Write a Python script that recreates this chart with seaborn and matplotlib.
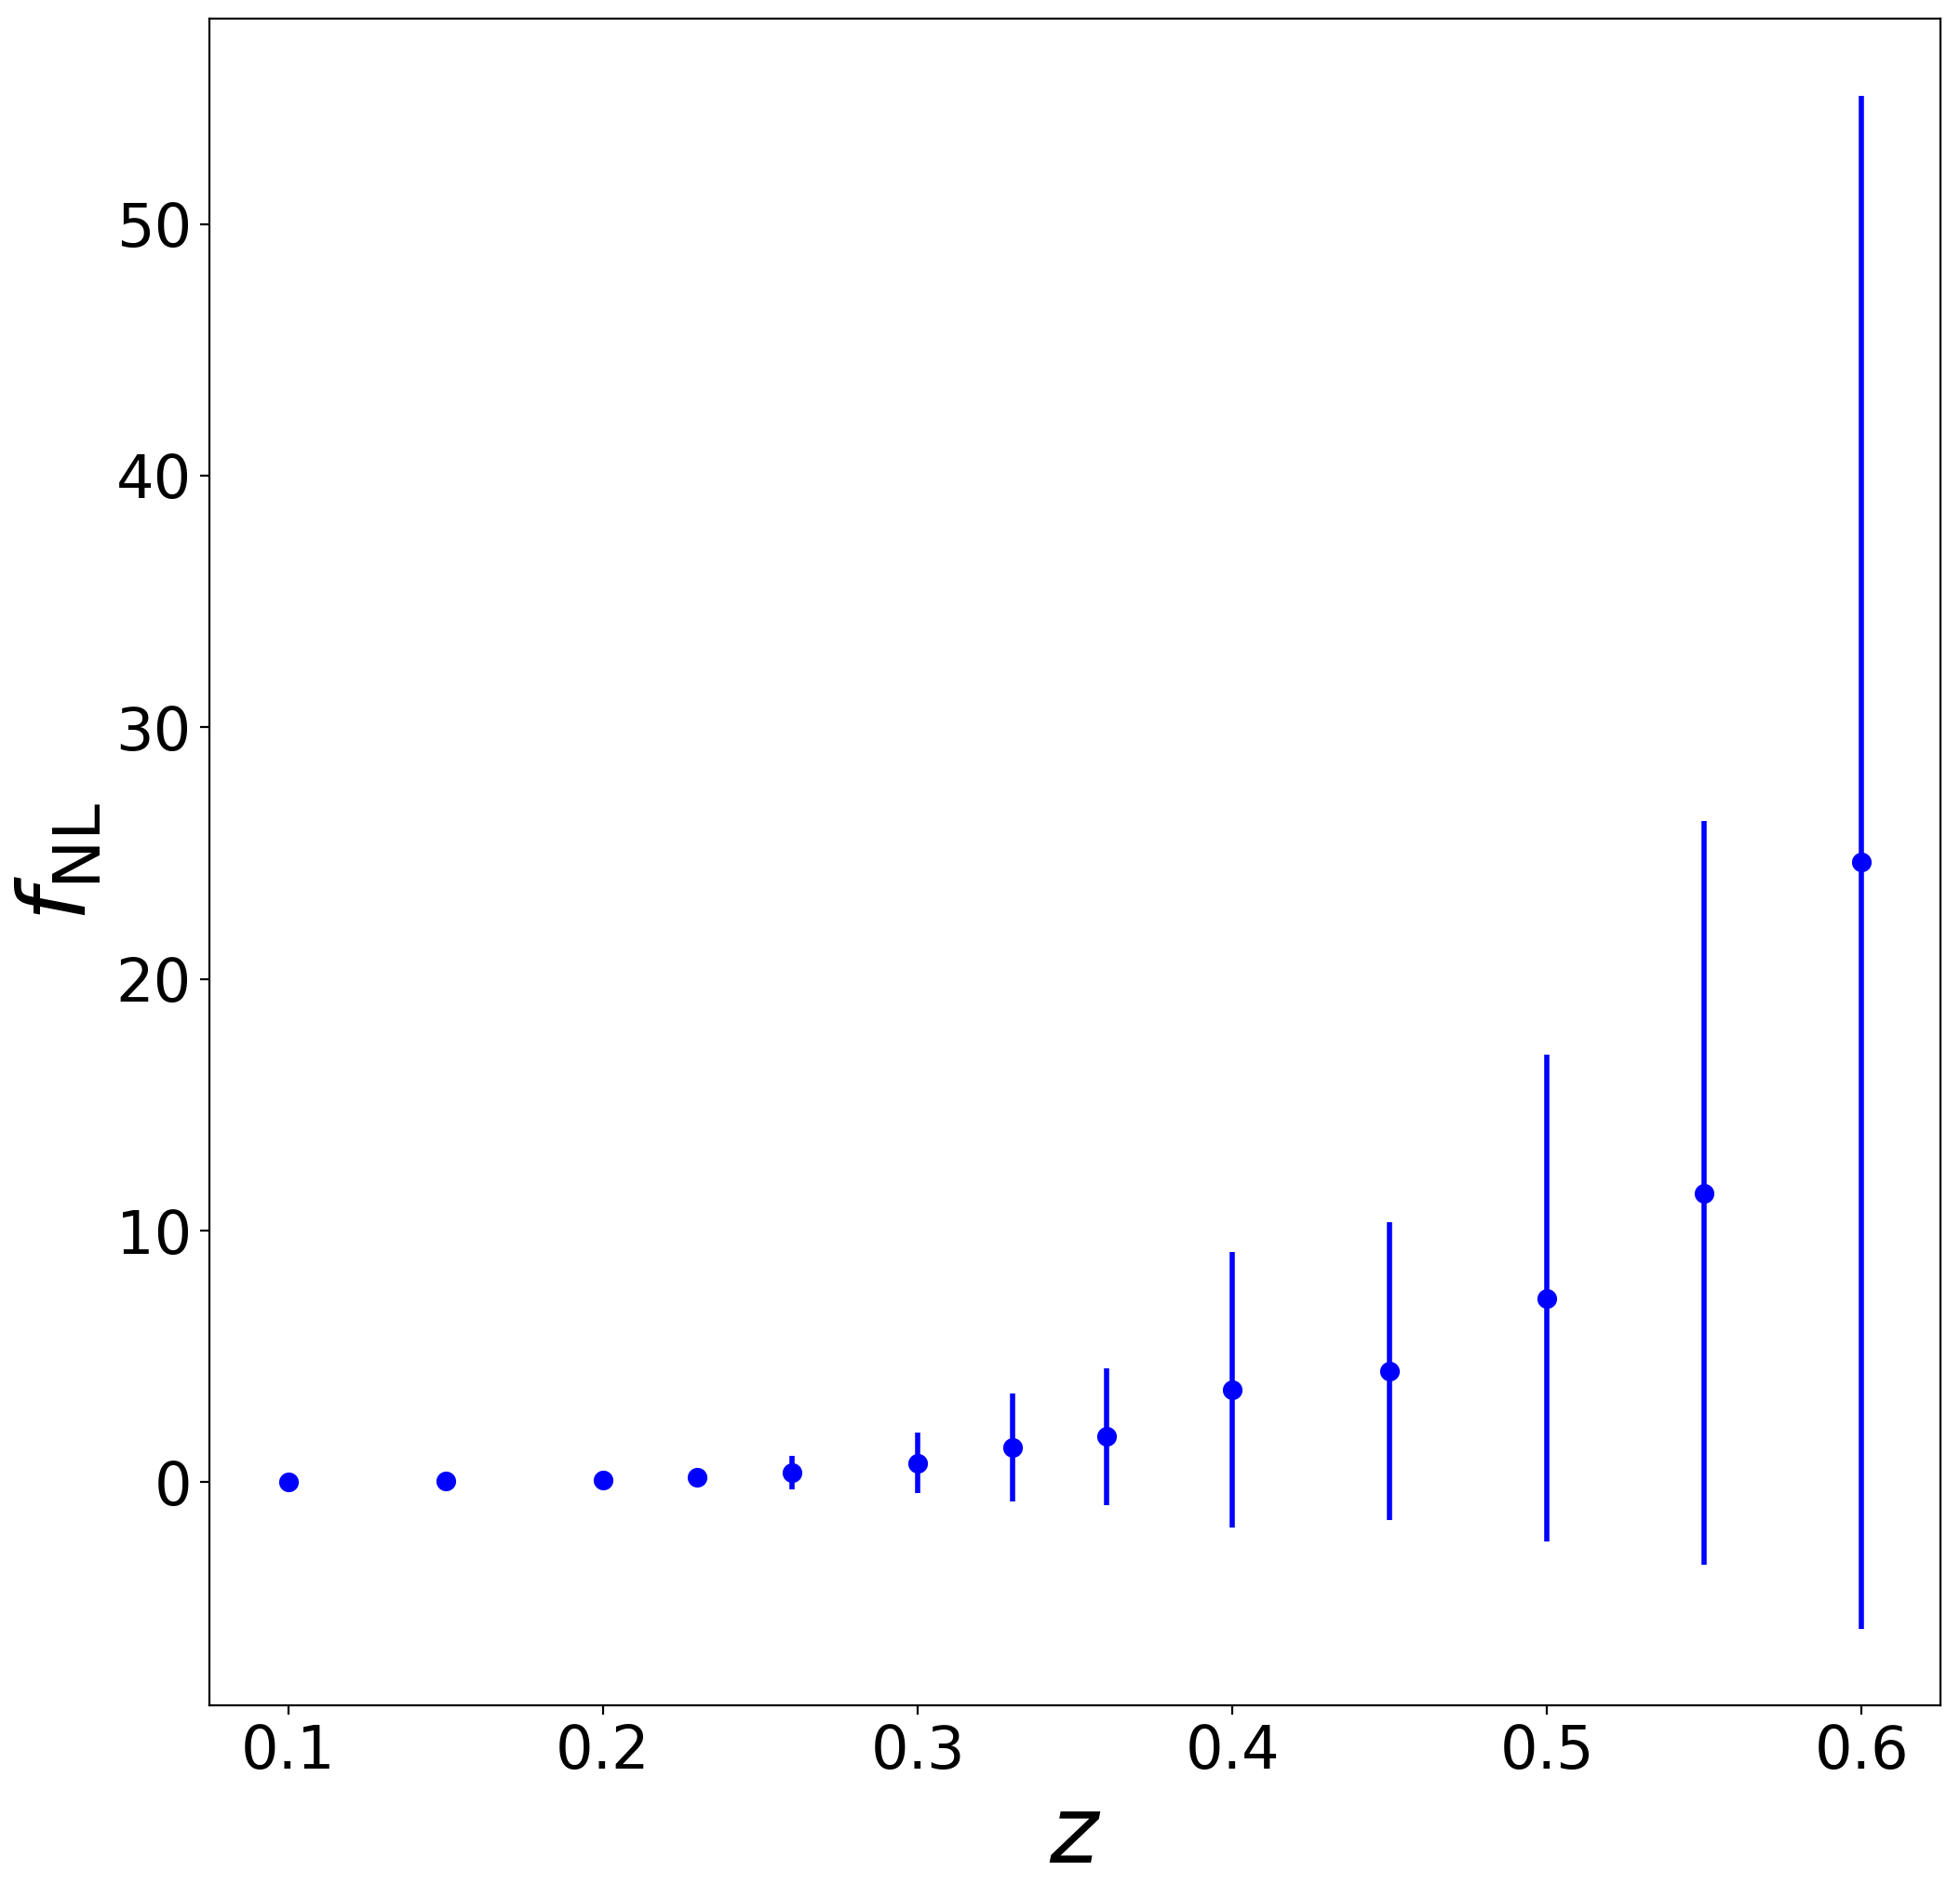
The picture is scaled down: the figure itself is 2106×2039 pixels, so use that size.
import numpy as np
import pandas as pd
import matplotlib
matplotlib.use("Agg")
import matplotlib.pyplot as plt
import seaborn as sns

# redshift bins and fNL estimates
z = [0.10, 0.15, 0.20, 0.23, 0.26, 0.30, 0.33, 0.36, 0.40, 0.45, 0.50, 0.55, 0.60]
fnl = [0.0, 0.05, 0.10, 0.18, 0.37, 0.77, 1.38, 1.82, 3.67, 4.41, 7.31, 11.49, 24.64]
err = [0.0, 0.0, 0.0, 0.0, 0.67, 1.20, 2.14, 2.72, 5.48, 5.93, 9.68, 14.77, 30.46]

df = pd.DataFrame({"z": z, "fnl": fnl, "err": err})

fig = plt.figure(figsize=(10.53, 10.195), dpi=200)
ax = fig.add_axes([0.107, 0.1015, 0.883, 0.8885])

# error bars first, points on top
ax.errorbar(df["z"], df["fnl"], yerr=df["err"], fmt="none",
            ecolor="blue", elinewidth=2, capsize=0, zorder=1)
sns.scatterplot(data=df, x="z", y="fnl", color="blue", s=58,
                linewidth=0, ax=ax, zorder=2)

ax.set_xlabel(r"$z$", fontsize=36)
ax.set_ylabel(r"$f_{\rm NL}$", fontsize=36)
ax.tick_params(labelsize=23)

fig.savefig("out.png", dpi=200)
